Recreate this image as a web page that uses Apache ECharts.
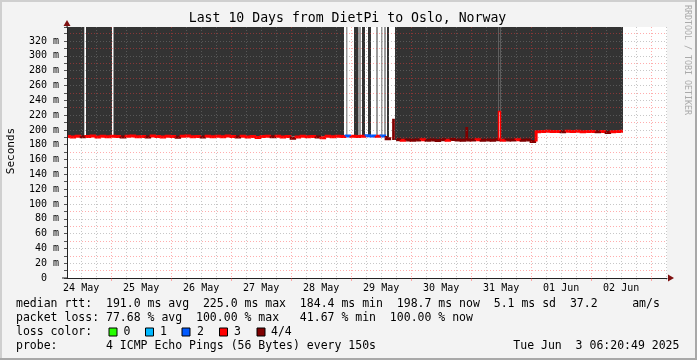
<!DOCTYPE html>
<html>
<head>
<meta charset="utf-8">
<title>Last 10 Days from DietPi to Oslo, Norway</title>
<script src="https://cdn.jsdelivr.net/npm/echarts@6/dist/echarts.min.js"></script>
<style>
  html, body { margin: 0; padding: 0; background: #f3f3f3; }
  #chart { width: 697px; height: 360px; }
</style>
</head>
<body>
<div id="chart"></div>
<script>
// time is counted in hours from 24 May 00:00, graph ends Tue Jun 3 06:20:49
var startHour = 6 + 20 / 60 + 49 / 3600;
var endHour = startHour + 240;

var dayLabels = ['24 May', '25 May', '26 May', '27 May', '28 May', '29 May', '30 May', '31 May', '01 Jun', '02 Jun'];
var yTickStep = 10;
var yMaxMs = 339;

// median rtt (ms), one sample every 2h from 24 May 06:00, null = no data
var rttFirstHour = 6;
var rttStepH = 2;
var rttLastHour = 228.75;
var rttMs = [
  191.2, 190.6, 191.5, 190.8, 191.0, 191.8, 190.4, 191.3, 190.9, 191.6,
  191.0, 190.3, 191.4, 191.9, 190.7, 191.2, 190.5, 191.7, 191.1, 190.6,
  191.5, 191.0, 190.2, 191.3, 191.8, 190.8, 191.2, 190.5, 191.6, 190.9,
  191.4, 190.7, 191.9, 191.1, 190.4, 191.5, 190.6, 191.2, 189.9, 191.0,
  191.3, 190.8, 191.6, 190.5, 191.1, 188.9, 190.6, 191.4, 190.9, 191.2,
  190.4, 189.5, 191.3, 190.8, 191.6, 191.0,
  191.8, 191.5, 191.2, 191.6, 192.0, 191.7, 191.3, 191.9, 188.0,
  null,
  186.8, 186.2, 186.5, 185.9, 186.4, 186.7, 186.1, 186.3, 185.8, 186.6,
  186.2, 186.9, 186.4, 186.0, 186.5, 186.3, 186.7, 185.9, 186.4, 186.2,
  186.6, 186.0, 186.5, 186.3, 186.8, 186.1, 186.4, 184.5,
  197.6, 197.9, 198.2, 197.7, 198.0, 197.5, 198.1, 197.8, 198.3, 197.6,
  197.9, 198.0, 197.4, 197.8, 196.6, 197.6, 197.9, 198.2
];
// lost pings out of 4 for each sample
var rttLoss = [
  3, 3, 3, 4, 3, 3, 3, 3, 3, 3,
  3, 4, 3, 3, 3, 3, 4, 3, 3, 3,
  3, 3, 4, 3, 3, 3, 3, 4, 3, 3,
  3, 3, 3, 3, 4, 3, 3, 3, 3, 3,
  3, 4, 3, 3, 3, 4, 3, 3, 3, 3,
  4, 3, 3, 3, 3, 3,
  2, 3, 3, 3, 2, 2, 3, 2, 4,
  0,
  4, 3, 4, 4, 4, 3, 4, 4, 4, 4,
  3, 4, 4, 4, 4, 4, 3, 4, 4, 4,
  4, 3, 4, 4, 3, 4, 4, 4,
  3, 3, 3, 3, 3, 4, 3, 3, 3, 3,
  3, 3, 4, 3, 4, 3, 3, 3
];

// short spikes of the median
var spikeStartH = [136.7, 166.0, 178.95];
var spikeEndH = [137.2, 166.5, 179.75];
var spikeMs = [214, 203, 225];
var spikeBaseMs = [186.5, 186.3, 186.2];
var spikeLoss = [4, 4, 3];

// smoke blocks, from the top of the graph down to smokeBottomMs
var smokeStartH = [6, 13.95, 24.95, 117.95, 121.15, 122.75, 124.35, 126.75, 129.95, 131.95, 133.15, 134.35, 137.55, 178.87, 179.83, 194.35];
var smokeEndH = [13.27, 24.35, 117.15, 118.55, 122.75, 123.95, 125.55, 127.95, 130.75, 132.55, 133.95, 135.15, 178.87, 179.83, 194.35, 228.75];
var smokeBottomMs = [191, 191, 191, 192, 192, 192, 192, 192, 192, 192, 192, 188, 186.5, 225, 186.3, 198];
var smokeShade = [0, 0, 0, 1, 0, 1, 0, 0, 1, 1, 1, 0, 0, 0, 0, 0];

var lossColors = ['#26ff00', '#00b8ff', '#0059ff', '#ff0000', '#7e0000'];
var smokeColors = ['#333333', '#9a9a9a'];
var majorGrid = 'rgba(255,60,60,0.42)';
var minorGrid = 'rgba(130,130,130,0.45)';
var mono = 'DejaVu Sans Mono';

// build the rows
var rttRows = [];
var prevMs = null;
for (var k = 0; k < rttMs.length; k++) {
  var v = rttMs[k];
  if (v !== null) {
    var t0 = rttFirstHour + k * rttStepH;
    rttRows.push([t0, Math.min(t0 + rttStepH, rttLastHour), v, rttLoss[k], prevMs === null ? v : prevMs]);
  }
  prevMs = v;
}
var spikeRows = spikeStartH.map(function (s, i) {
  return [s, spikeEndH[i], spikeMs[i], spikeLoss[i], spikeBaseMs[i]];
});
var smokeRows = smokeStartH.map(function (s, i) {
  return [s, smokeEndH[i], smokeBottomMs[i], smokeShade[i]];
});

var midnights = [], noons = [], sixHours = [];
dayLabels.forEach(function (d, i) {
  midnights.push(24 * (i + 1));
  noons.push(24 * i + 12);
});
for (var h = 12; h <= endHour; h += 6) {
  if (h % 24 !== 0) sixHours.push(h);
}

function renderSmoke(params, api) {
  var a = api.coord([api.value(0), yMaxMs]);
  var b = api.coord([api.value(1), api.value(2)]);
  return {
    type: 'rect',
    shape: { x: a[0], y: a[1], width: b[0] - a[0], height: b[1] - a[1] },
    style: { fill: smokeColors[api.value(3)] }
  };
}

function renderRtt(params, api) {
  var a = api.coord([api.value(0), api.value(4)]);
  var b = api.coord([api.value(0), api.value(2)]);
  var c = api.coord([api.value(1), api.value(2)]);
  return {
    type: 'polyline',
    shape: { points: [a, b, c] },
    style: { stroke: lossColors[api.value(3)], lineWidth: 3, fill: null }
  };
}

function renderSpike(params, api) {
  var t0 = api.value(0), t1 = api.value(1), top = api.value(2), base = api.value(4);
  return {
    type: 'polyline',
    shape: { points: [api.coord([t0, base]), api.coord([t0, top]), api.coord([t1, top]), api.coord([t1, base])] },
    style: { stroke: lossColors[api.value(3)], lineWidth: 1.5, fill: null }
  };
}

function txt(x, y, s, extra) {
  var st = { x: x, y: y, text: s, fill: '#000', font: '11.5px "' + mono + '"', textAlign: 'left', textVerticalAlign: 'middle' };
  for (var key in extra) st[key] = extra[key];
  return { type: 'text', style: st, z: 20 };
}
function box(x, color) {
  return { type: 'rect', shape: { x: x, y: 328, width: 8, height: 8 }, style: { fill: color, stroke: '#000', lineWidth: 1 }, z: 20 };
}

var chart = echarts.init(document.getElementById('chart'));

var option = {
  backgroundColor: '#f3f3f3',
  animation: false,
  grid: { left: 67, right: 30, top: 27, bottom: 82, show: true, backgroundColor: '#ffffff', borderWidth: 0 },
  xAxis: [{
    type: 'value', min: startHour, max: endHour, position: 'bottom', z: 6,
    axisLine: { show: true, lineStyle: { color: '#222', width: 1 } },
    axisTick: { show: true, customValues: midnights, length: 3, lineStyle: { color: majorGrid } },
    splitLine: { show: true, lineStyle: { color: majorGrid, type: [1, 2], width: 1 } },
    axisLabel: {
      customValues: noons, margin: 5, color: '#000', fontFamily: mono, fontSize: 10,
      formatter: function (val) { return dayLabels[Math.round((val - 12) / 24)]; }
    }
  }, {
    type: 'value', min: startHour, max: endHour, position: 'bottom', z: 5,
    axisLine: { show: false },
    axisTick: { show: true, customValues: sixHours, length: 2, lineStyle: { color: minorGrid } },
    splitLine: { show: true, lineStyle: { color: minorGrid, type: [1, 2], width: 1 } },
    axisLabel: { show: false }
  }],
  yAxis: {
    type: 'value', min: 0, max: yMaxMs, interval: yTickStep, z: 5,
    axisLine: { show: true, lineStyle: { color: '#222', width: 1 } },
    axisTick: { show: true, length: 3, lineStyle: { color: '#555' } },
    splitLine: { show: true, showMinLine: false, showMaxLine: false, lineStyle: { color: [majorGrid, minorGrid], type: [1, 2], width: 1 } },
    axisLabel: {
      margin: 8, color: '#000', fontFamily: mono, fontSize: 10,
      formatter: function (val) {
        if (val % 20 !== 0) return '';
        return val === 0 ? '0  ' : val + ' m';
      }
    }
  },
  series: [{
    type: 'custom', name: 'smoke', xAxisIndex: 0, clip: true, z: 1,
    renderItem: renderSmoke, encode: { x: [0, 1], y: 2 }, data: smokeRows
  }, {
    type: 'custom', name: 'median rtt', xAxisIndex: 0, clip: true, z: 2,
    renderItem: renderRtt, encode: { x: [0, 1], y: 2 }, data: rttRows
  }, {
    type: 'custom', name: 'spikes', xAxisIndex: 0, clip: true, z: 3,
    renderItem: renderSpike, encode: { x: [0, 1], y: 2 }, data: spikeRows
  }],
  graphic: { elements: [
    { type: 'rect', shape: { x: 0, y: 0, width: 697, height: 2 }, style: { fill: '#cfcfcf' }, z: 20 },
    { type: 'rect', shape: { x: 0, y: 0, width: 2, height: 360 }, style: { fill: '#cfcfcf' }, z: 20 },
    { type: 'rect', shape: { x: 695, y: 0, width: 2, height: 360 }, style: { fill: '#a8a8a8' }, z: 20 },
    { type: 'rect', shape: { x: 0, y: 358, width: 697, height: 2 }, style: { fill: '#a8a8a8' }, z: 20 },
    { type: 'line', shape: { x1: 62, y1: 278, x2: 67, y2: 278 }, style: { stroke: '#222', lineWidth: 1 }, z: 20 },
    { type: 'line', shape: { x1: 67, y1: 23, x2: 67, y2: 28 }, style: { stroke: '#222', lineWidth: 1 }, z: 20 },
    { type: 'polygon', shape: { points: [[67, 20], [63.5, 26], [70.5, 26]] }, style: { fill: '#7e1010' }, z: 20 },
    { type: 'polygon', shape: { points: [[674, 278], [668, 274.5], [668, 281.5]] }, style: { fill: '#7e1010' }, z: 20 },
    txt(347.5, 18.5, 'Last 10 Days from DietPi to Oslo, Norway', { font: '13.2px "' + mono + '"', textAlign: 'center' }),
    { type: 'text', x: 11, y: 151, rotation: Math.PI / 2, style: { text: 'Seconds', fill: '#000', font: '11px "' + mono + '"', textAlign: 'center', textVerticalAlign: 'middle' }, z: 20 },
    { type: 'text', x: 687, y: 60, rotation: -Math.PI / 2, style: { text: 'RRDTOOL / TOBI OETIKER', fill: '#aaaaaa', font: '8.3px "' + mono + '"', textAlign: 'center', textVerticalAlign: 'middle' }, z: 20 },
    txt(16, 304.5, 'median rtt:  191.0 ms avg  225.0 ms max  184.4 ms min  198.7 ms now  5.1 ms sd  37.2     am/s'),
    txt(16, 318.3, 'packet loss: 77.68 % avg  100.00 % max   41.67 % min  100.00 % now'),
    txt(16, 332.5, 'loss color:'),
    box(109, lossColors[0]), txt(123.6, 332.5, '0'),
    box(145.5, lossColors[1]), txt(160, 332.5, '1'),
    box(182, lossColors[2]), txt(197, 332.5, '2'),
    box(219.5, lossColors[3]), txt(234, 332.5, '3'),
    box(257, lossColors[4]), txt(271, 332.5, '4/4'),
    txt(16, 346.5, 'probe:       4 ICMP Echo Pings (56 Bytes) every 150s'),
    txt(513.3, 346.5, 'Tue Jun  3 06:20:49 2025')
  ] }
};

chart.setOption(option);
</script>
</body>
</html>
